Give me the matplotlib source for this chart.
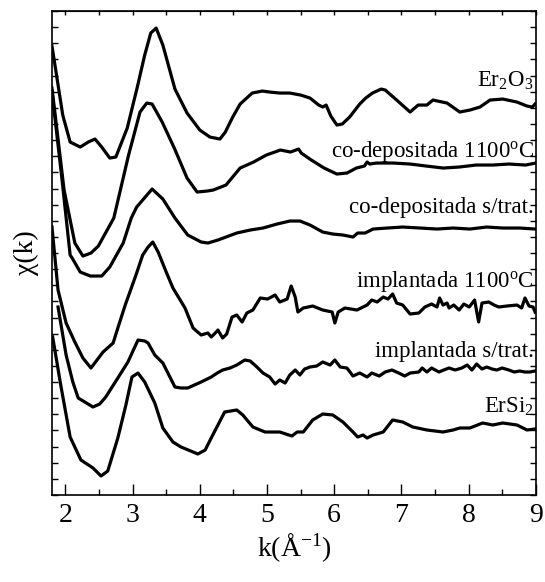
import matplotlib
matplotlib.use("Agg")
import matplotlib.pyplot as plt
import numpy as np

plt.rcParams["font.family"] = ["Liberation Serif", "DejaVu Serif"]
plt.rcParams["mathtext.fontset"] = "custom"
plt.rcParams["mathtext.rm"] = "Liberation Serif"
plt.rcParams["mathtext.it"] = "Liberation Serif:italic"

# chi(k) in arbitrary units, each curve shifted by its own offset
k_er2o3 = [1.80, 1.96, 2.07, 2.22, 2.34, 2.44, 2.54, 2.66, 2.75, 2.92,
           3.07, 3.18, 3.27, 3.35, 3.45, 3.63, 3.81, 4.00, 4.15, 4.30,
           4.38, 4.49, 4.60, 4.78, 4.93, 5.04, 5.19, 5.34, 5.50, 5.64,
           5.77, 5.83, 5.88, 5.95, 6.04, 6.12, 6.23, 6.38, 6.47, 6.57,
           6.70, 6.76, 6.93, 7.13, 7.25, 7.38, 7.47, 7.68, 7.87, 8.02,
           8.17, 8.32, 8.51, 8.72, 8.87, 8.95, 8.99]
chi_er2o3 = [59, -10, -37, -42, -37, -34, -42, -53, -52, -23,
             18, 50, 72, 77, 60, 16, -8, -25, -32, -34,
             -27, -12, 1, 12, 14, 13, 12, 12, 10, 7,
             0, -2, 0, -11, -20, -19, -12, 1, 7, 12,
             16, 15, 5, -7, 0, 0, 5, 2, -7, -5,
             -2, 5, 6, 3, -1, -2, 1]

k_codep1100 = [1.80, 1.98, 2.14, 2.26, 2.38, 2.49, 2.72, 2.94, 3.11, 3.21,
               3.29, 3.44, 3.62, 3.81, 3.96, 4.11, 4.20, 4.39, 4.60, 4.80,
               4.99, 5.20, 5.35, 5.47, 5.51, 5.66, 5.85, 6.04, 6.19, 6.33,
               6.45, 6.49, 6.53, 6.63, 6.88, 7.13, 7.37, 7.62, 7.86, 8.11,
               8.36, 8.60, 8.85, 9.00]
chi_codep1100 = [77, -25, -78, -91, -88, -81, -53, 10, 53, 62,
                 61, 43, 17, -13, -27, -26, -25, -20, -3, 3,
                 10, 15, 13, 16, 12, 5, -3, -9, -8, -3,
                 -1, 3, 1, 2, 2, 1, -1, -3, -2, 0,
                 0, 1, 0, 2]

k_codep = [1.80, 1.95, 2.07, 2.10, 2.22, 2.37, 2.54, 2.66, 2.86, 2.98,
           3.06, 3.29, 3.45, 3.63, 3.82, 4.02, 4.12, 4.27, 4.55, 4.75,
           4.94, 5.15, 5.34, 5.49, 5.64, 5.83, 5.98, 6.13, 6.28, 6.35,
           6.46, 6.58, 6.79, 7.02, 7.28, 7.53, 7.77, 8.02, 8.27, 8.51,
           8.76, 8.99]
chi_codep = [136, 48, -27, -30, -44, -48, -48, -39, -15, 10,
             21, 39, 29, 10, -7, -14, -15, -12, -5, -2,
             0, 4, 7, 7, 3, -4, -6, -7, -9, -5,
             -5, -1, 0, 1, 0, -1, 0, -1, 1, 0,
             0, -1]

k_impl1100 = [1.80, 1.89, 2.01, 2.14, 2.26, 2.38, 2.56, 2.71, 2.78, 2.89,
              3.05, 3.15, 3.23, 3.30, 3.38, 3.50, 3.60, 3.78, 3.90, 4.02,
              4.12, 4.17, 4.23, 4.27, 4.34, 4.40, 4.48, 4.55, 4.63, 4.70,
              4.79, 4.90, 5.01, 5.12, 5.19, 5.30, 5.36, 5.42, 5.46, 5.54,
              5.68, 5.83, 5.97, 6.01, 6.06, 6.16, 6.34, 6.49, 6.56, 6.64,
              6.73, 6.80, 6.87, 6.93, 7.02, 7.13, 7.26, 7.35, 7.45, 7.53,
              7.57, 7.62, 7.68, 7.71, 7.78, 7.86, 7.93, 8.01, 8.09, 8.15,
              8.20, 8.30, 8.38, 8.45, 8.57, 8.72, 8.79, 8.84, 8.90, 8.96,
              8.99]
chi_impl1100 = [78, 15, -18, -37, -53, -63, -47, -38, -23, 0,
                30, 50, 58, 63, 53, 33, 17, -3, -23, -30,
                -28, -32, -28, -25, -33, -29, -12, -10, -17, -8,
                -5, 7, 6, 10, 3, 6, 19, 8, -7, -3,
                -1, -5, -7, -18, -7, -3, -5, 0, 5, 3,
                8, 6, 11, 2, 0, -9, -8, -2, 1, -2,
                7, 0, 2, -3, 0, -5, 1, -2, 5, -17,
                2, 3, 0, -2, -1, 0, -3, 7, -1, -2,
                -7]

k_impl = [1.89, 2.01, 2.11, 2.19, 2.41, 2.51, 2.60, 2.78, 2.93, 3.08,
          3.18, 3.23, 3.33, 3.45, 3.63, 3.72, 3.82, 4.02, 4.17, 4.26,
          4.34, 4.45, 4.55, 4.67, 4.75, 4.85, 4.94, 5.04, 5.12, 5.19,
          5.27, 5.34, 5.42, 5.49, 5.56, 5.64, 5.74, 5.83, 5.94, 6.01,
          6.09, 6.19, 6.28, 6.38, 6.49, 6.56, 6.67, 6.76, 6.86, 6.96,
          7.05, 7.13, 7.26, 7.31, 7.38, 7.45, 7.56, 7.63, 7.71, 7.80,
          7.90, 7.98, 8.05, 8.12, 8.20, 8.27, 8.35, 8.42, 8.50, 8.60,
          8.68, 8.76, 8.84, 8.91, 8.99]
chi_impl = [63, 15, -12, -28, -37, -34, -27, -8, 8, 30,
            29, 27, 15, 7, -17, -18, -18, -12, -7, -3,
            0, 2, 5, 10, 9, 3, -3, -7, -14, -10,
            -13, -5, 0, -5, 1, 3, 4, 8, 5, 10,
            3, 2, -6, -3, -7, -3, -6, -2, 0, -3,
            -6, -3, -2, 2, -2, 2, -2, 0, 2, 0,
            2, 5, 0, 6, 1, 3, 1, 0, 2, 0,
            -2, -1, -2, -2, -1]

k_ersi2 = [1.81, 1.93, 2.07, 2.23, 2.41, 2.53, 2.63, 2.78, 2.90, 2.99,
           3.08, 3.18, 3.33, 3.45, 3.60, 3.72, 3.90, 3.97, 4.08, 4.17,
           4.27, 4.37, 4.55, 4.64, 4.79, 4.97, 5.19, 5.37, 5.45, 5.54,
           5.68, 5.83, 5.98, 6.13, 6.28, 6.35, 6.43, 6.49, 6.58, 6.73,
           6.87, 7.02, 7.17, 7.38, 7.62, 7.77, 7.87, 8.02, 8.21, 8.36,
           8.51, 8.72, 8.87, 8.99]
chi_ersi2 = [93, 45, -7, -30, -38, -46, -41, -8, 25, 53,
             57, 48, 27, 2, -12, -17, -22, -24, -20, -8,
             5, 18, 20, 15, 3, -2, -2, -6, -2, -2,
             10, 16, 15, 8, -2, -7, -5, -8, -5, -2,
             10, 8, 3, 0, -2, 0, 2, 2, 7, 5,
             7, 5, 0, 1]

labels = ["Er$_2$O$_3$", "co-depositada 1100$^\\mathrm{o}$C",
          "co-depositada s/trat.", "implantada 1100$^\\mathrm{o}$C",
          "implantada s/trat.", "ErSi$_2$"]
offsets = [390, 330, 267, 190, 125, 65]
label_y = [408, 338, 282, 208, 138, 82]

curves = [(k_er2o3, chi_er2o3), (k_codep1100, chi_codep1100),
          (k_codep, chi_codep), (k_impl1100, chi_impl1100),
          (k_impl, chi_impl), (k_ersi2, chi_ersi2)]

fig = plt.figure(figsize=(5.45, 5.82), dpi=100)
ax = fig.add_axes([0.0954, 0.1495, 0.8876, 0.8315])

for (k, chi), off, lab, ly in zip(curves, offsets, labels, label_y):
    ax.plot(k, np.array(chi) + off, color="black", lw=2.3,
            solid_joinstyle="round")
    ax.text(8.97, ly, lab, ha="right", va="baseline", fontsize=16.5)

ax.set_xlim(1.8, 9)
ax.set_ylim(0, 484)
ax.set_xticks(np.arange(2, 10, 1))
ax.set_xticks(np.arange(2.5, 9, 0.5), minor=True)
ax.set_yticks(np.linspace(0, 484, 31))
ax.set_yticklabels([])
ax.tick_params(axis="x", which="major", direction="in", length=8, width=1,
               labelsize=20, pad=6, top=False)
ax.tick_params(axis="x", which="minor", direction="in", length=4, width=1,
               top=False)
ax.tick_params(axis="y", which="major", direction="in", length=4, width=1,
               right=True)

top = ax.secondary_xaxis("top")
top.set_xticks(np.arange(2, 9.01, 0.5))
top.set_xticklabels([])
top.tick_params(direction="in", length=3, width=1)

for s in ax.spines.values():
    s.set_linewidth(1.2)

ax.set_xlabel("k(Å$^{-1}$)", fontsize=20, labelpad=2)
ax.set_ylabel("χ(k)", fontsize=20, labelpad=6)

fig.savefig("out.png", dpi=100)
